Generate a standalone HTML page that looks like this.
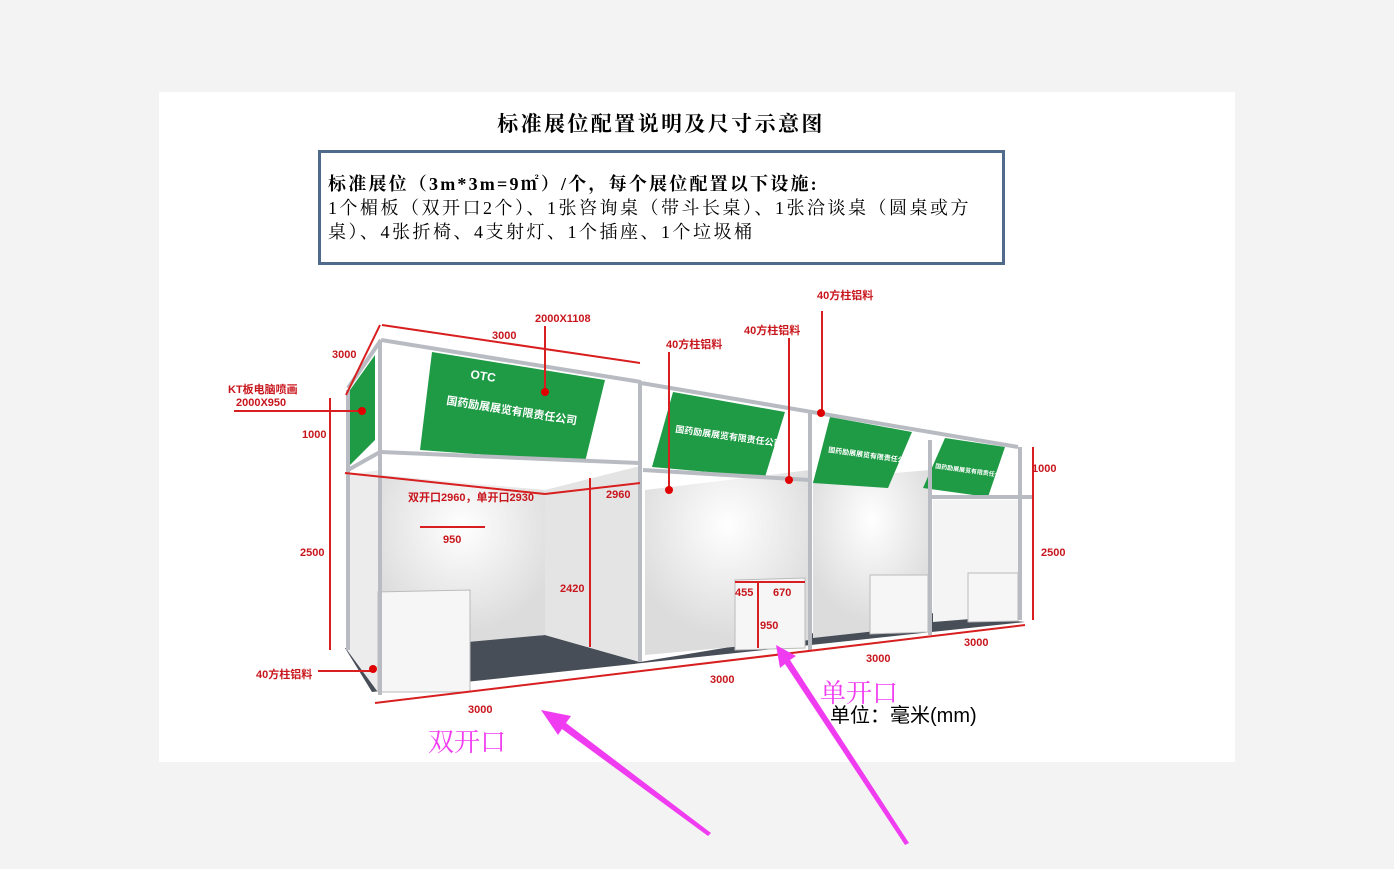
<!DOCTYPE html>
<html><head><meta charset="utf-8"><style>
body{margin:0;background:#f3f3f3;width:1394px;height:869px;overflow:hidden;font-family:"Liberation Sans","Noto Sans CJK SC",sans-serif}
</style></head><body>
<svg width="1394" height="869" viewBox="0 0 1394 869" xmlns="http://www.w3.org/2000/svg" style="position:absolute;left:0;top:0">
<defs>
<radialGradient id="lg" cx="50%" cy="30%" r="60%"><stop offset="0" stop-color="#fff"/><stop offset="1" stop-color="#dcdcdc"/></radialGradient>
</defs>
<rect x="159" y="92" width="1076" height="670" fill="#fff"/>
<text x="661" y="131" font-size="21" font-weight="bold" text-anchor="middle" letter-spacing="2.4" font-family="Liberation Serif,Noto Serif CJK SC,serif">标准展位配置说明及尺寸示意图</text>
<rect x="319.5" y="151.5" width="684" height="112" fill="#fff" stroke="#4f6a8a" stroke-width="3"/>
<text x="328" y="190" font-size="18" font-weight="bold" letter-spacing="2.2" font-family="Liberation Serif,Noto Serif CJK SC,serif">标准展位（3m*3m=9㎡）/个，每个展位配置以下设施:</text>
<text x="328" y="214" font-size="18" letter-spacing="2.5" font-family="Liberation Serif,Noto Serif CJK SC,serif">1个楣板（双开口2个）、1张咨询桌（带斗长桌）、1张洽谈桌（圆桌或方</text>
<text x="328" y="238" font-size="18" letter-spacing="2.5" font-family="Liberation Serif,Noto Serif CJK SC,serif">桌）、4张折椅、4支射灯、1个插座、1个垃圾桶</text>

<!-- floor -->
<polygon points="345,648 372,692 1025,622 940,612 640,662 545,635" fill="#484e58"/>
<!-- walls -->
<polygon points="347,475 380,470 380,695 347,650" fill="#ececec"/>
<polygon points="380,475 545,490 545,635 380,650" fill="url(#lg)"/>
<polygon points="545,490 640,466 640,662 545,635" fill="#e4e4e4"/>
<polygon points="645,490 810,470 810,640 645,655" fill="url(#lg)"/>
<polygon points="813,480 930,470 930,625 813,638" fill="url(#lg)"/>
<polygon points="933,500 1020,500 1020,615 933,622" fill="#f4f4f4"/>
<!-- desks -->
<polygon points="378,592 470,590 470,692 378,692" fill="#f6f6f6" stroke="#bbb"/>
<polygon points="735,580 805,578 805,648 735,650" fill="#f6f6f6" stroke="#bbb"/>
<polygon points="870,575 928,575 928,632 870,634" fill="#f6f6f6" stroke="#bbb"/>
<polygon points="968,573 1018,573 1018,621 968,622" fill="#f6f6f6" stroke="#bbb"/>
<!-- banners -->
<polygon points="432,352 605,380 585,462 420,450" fill="#1f9a45"/>
<polygon points="375,355 375,440 350,465 350,390" fill="#1f9a45"/>
<polygon points="673,392 785,412 765,477 652,467" fill="#1f9a45"/>
<polygon points="830,417 912,432 888,488 813,483" fill="#1f9a45"/>
<polygon points="945,438 1005,447 988,497 923,488" fill="#1f9a45"/>
<g fill="#fff" font-size="11" font-weight="bold">
<text x="446" y="404" transform="rotate(9 446 404)">国药励展展览有限责任公司</text>
<text x="470" y="378" font-size="12" transform="rotate(9 470 378)">OTC</text>
<text x="675" y="432" font-size="9" transform="rotate(8 675 432)">国药励展展览有限责任公司</text>
<text x="828" y="452" font-size="7" transform="rotate(8 828 452)">国药励展展览有限责任公司</text>
<text x="935" y="468" font-size="6" transform="rotate(8 935 468)">国药励展展览有限责任公司</text>
</g>
<!-- frames -->
<g stroke="#b8bcc2" stroke-width="4" fill="none">
<line x1="381" y1="340" x2="641" y2="382"/><line x1="641" y1="383" x2="1018" y2="447"/>
<line x1="380" y1="452" x2="638" y2="463"/><line x1="643" y1="470" x2="810" y2="480"/><line x1="932" y1="497" x2="1033" y2="497"/>
<line x1="348" y1="388" x2="381" y2="340"/><line x1="348" y1="470" x2="380" y2="452"/>
<line x1="380" y1="340" x2="380" y2="695"/><line x1="348" y1="390" x2="348" y2="650"/>
<line x1="640" y1="382" x2="640" y2="662"/><line x1="810" y1="410" x2="810" y2="650"/>
<line x1="930" y1="440" x2="930" y2="635"/><line x1="1020" y1="447" x2="1020" y2="620"/>
</g>
<!-- red dims -->
<g stroke="#d81e1e" stroke-width="2" fill="none">
<line x1="382" y1="325" x2="640" y2="363"/><line x1="380" y1="325" x2="346" y2="395"/>
<line x1="545" y1="326" x2="545" y2="390"/>
<line x1="234" y1="411" x2="360" y2="411"/>
<line x1="330" y1="398" x2="330" y2="650"/>
<line x1="345" y1="473" x2="545" y2="494"/><line x1="545" y1="494" x2="640" y2="483"/>
<line x1="420" y1="527" x2="485" y2="527"/>
<line x1="590" y1="478" x2="590" y2="647"/>
<line x1="669" y1="352" x2="669" y2="490"/><line x1="789" y1="338" x2="789" y2="480"/><line x1="822" y1="311" x2="822" y2="412"/>
<line x1="318" y1="671" x2="372" y2="671"/>
<line x1="375" y1="703" x2="1025" y2="625"/>
<line x1="1033" y1="447" x2="1033" y2="620"/>
<line x1="735" y1="582" x2="805" y2="582"/><line x1="758" y1="582" x2="758" y2="648"/>
</g>
<g fill="#e00000"><circle cx="545" cy="392" r="4"/><circle cx="362" cy="411" r="4"/><circle cx="373" cy="669" r="4"/><circle cx="669" cy="490" r="4"/><circle cx="789" cy="480" r="4"/><circle cx="821" cy="413" r="4"/></g>
<g fill="#c8161d" font-size="11" font-weight="bold">
<text x="535" y="322">2000X1108</text><text x="492" y="339">3000</text><text x="332" y="358">3000</text>
<text x="228" y="393">KT板电脑喷画</text><text x="236" y="406">2000X950</text>
<text x="302" y="438">1000</text><text x="300" y="556">2500</text>
<text x="408" y="501">双开口2960，单开口2930</text><text x="606" y="498">2960</text>
<text x="443" y="543">950</text><text x="560" y="592">2420</text>
<text x="256" y="678">40方柱铝料</text><text x="468" y="713">3000</text><text x="710" y="683">3000</text>
<text x="866" y="662">3000</text><text x="964" y="646">3000</text>
<text x="1032" y="472">1000</text><text x="1041" y="556">2500</text>
<text x="666" y="348">40方柱铝料</text><text x="744" y="334">40方柱铝料</text><text x="817" y="299">40方柱铝料</text>
<text x="735" y="596">455</text><text x="773" y="596">670</text><text x="760" y="629">950</text>
</g>
<!-- arrows -->
<polygon points="711,833 566,723 571,716 541,710 558,735 562,729 708,836" fill="#f03cf0"/>
<polygon points="909,843 790,660 796,656 776,645 780,668 785,664 905,845" fill="#f03cf0"/>
<text x="820" y="702" font-size="26" fill="#f03cf0" font-family="Liberation Serif,Noto Serif CJK SC,serif">单开口</text>
<text x="830" y="722" font-size="20" fill="#000">单位：毫米(mm)</text>
<text x="428" y="751" font-size="26" fill="#f03cf0" font-family="Liberation Serif,Noto Serif CJK SC,serif">双开口</text>
</svg>
</body></html>
